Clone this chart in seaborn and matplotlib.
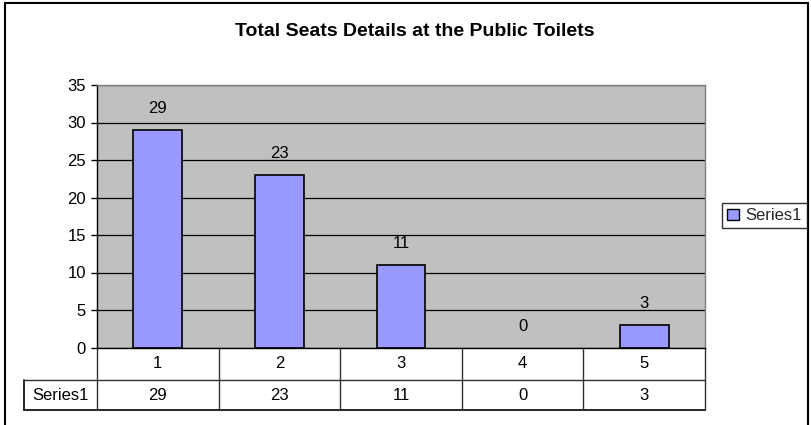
import matplotlib
matplotlib.use("Agg")
import matplotlib.pyplot as plt
from matplotlib.patches import Patch, Rectangle
import seaborn as sns
import pandas as pd

# ---- data ----
categories = ["1", "2", "3", "4", "5"]
values = [29, 23, 11, 0, 3]
series_name = "Series1"
title = "Total Seats Details at the Public Toilets"
yticks = [0, 5, 10, 15, 20, 25, 30, 35]

sns.set_theme(style="white")
plt.rcParams["font.family"] = ["Liberation Sans", "DejaVu Sans"]

df = pd.DataFrame({"cat": categories, "val": values})

W, H = 812, 425
FS = 12
fig = plt.figure(figsize=(W / 100, H / 100), dpi=100)
fig.patch.set_facecolor("white")

# plot area in pixels: x 97..705, y 85..347.5
L, R, T, B = 97, 705, 85, 347.5
ax = fig.add_axes([L / W, 1 - B / H, (R - L) / W, (B - T) / H])
ax.set_facecolor("#C0C0C0")

sns.barplot(data=df, x="cat", y="val", color="#9999FF", saturation=1,
            edgecolor="black", linewidth=1.2, width=0.4, ax=ax)

# a zero-height bar shows no outline in the reference
for bar, v in zip(ax.patches, values):
    if v == 0:
        bar.set_linewidth(0)

ax.set_xlim(-0.5, len(categories) - 0.5)
ax.set_ylim(0, 35)
ax.set_yticks(yticks)
ax.set_yticklabels([str(t) for t in yticks], fontsize=FS, color="black")
ax.tick_params(axis="y", direction="out", length=4, width=1, color="black",
               left=True, pad=4)
ax.tick_params(axis="x", bottom=False, labelbottom=False)
ax.set_xlabel("")
ax.set_ylabel("")
ax.yaxis.grid(True, color="black", linewidth=0.9)
ax.set_axisbelow(True)

for s in ["left", "bottom"]:
    ax.spines[s].set_color("black")
    ax.spines[s].set_linewidth(1)
for s in ["top", "right"]:
    ax.spines[s].set_color("#808080")
    ax.spines[s].set_linewidth(1)

ax.bar_label(ax.containers[0], padding=10, fontsize=FS, color="black")

# ---- data table below the plot ----
n = len(categories)
y1 = -(380 - B) / (B - T)
y2 = -(410 - B) / (B - T)
xl = -(L - 24) / (R - L)
tr = ax.transAxes
lc = "#303030"
kw = dict(transform=tr, clip_on=False, color=lc, linewidth=1)
ax.plot([xl, 1], [y1, y1], **kw)
ax.plot([xl, 1], [y2, y2], color="black", linewidth=1.2, transform=tr, clip_on=False)
ax.plot([xl, xl], [y1, y2], color="black", linewidth=1.2, transform=tr, clip_on=False)
for i in range(n + 1):
    x = i / n
    ax.plot([x, x], [0, y2], **kw)

for i, (c, v) in enumerate(zip(categories, values)):
    xc = (i + 0.5) / n
    ax.text(xc, y1 / 2, c, transform=tr, ha="center", va="center",
            fontsize=FS, color="black")
    ax.text(xc, (y1 + y2) / 2, str(v), transform=tr, ha="center", va="center",
            fontsize=FS, color="black")
ax.text(xl / 2, (y1 + y2) / 2, series_name, transform=tr, ha="center",
        va="center", fontsize=FS, color="black")

# ---- title ----
fig.text(415 / W, 1 - 31 / H, title, ha="center", va="center",
         fontsize=14, fontweight="bold", color="black")

# ---- legend ----
leg = fig.legend(handles=[Patch(facecolor="#9999FF", edgecolor="black",
                                linewidth=1, label=series_name)],
                 loc="center left", bbox_to_anchor=(722 / W, 1 - 216 / H),
                 frameon=True, fancybox=False, fontsize=FS,
                 handlelength=0.7, handleheight=0.7, handletextpad=0.4,
                 borderpad=0.3, borderaxespad=0)
leg.get_frame().set_edgecolor("black")
leg.get_frame().set_linewidth(1)

# ---- outer chart frame ----
fig.patches.append(Rectangle((5 / W, -0.05), (808 - 5) / W, 1 - 3 / H + 0.05,
                             transform=fig.transFigure, fill=False,
                             edgecolor="black", linewidth=1.5))

fig.savefig("out.png", dpi=100)
